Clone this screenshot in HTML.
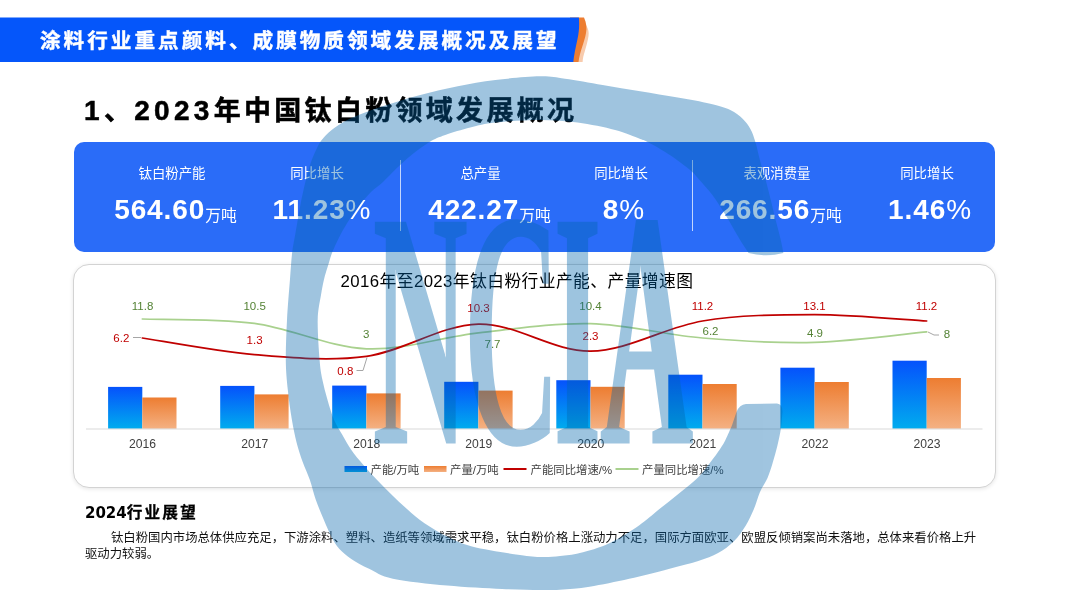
<!DOCTYPE html>
<html lang="zh-CN">
<head>
<meta charset="utf-8">
<title>涂料行业重点颜料、成膜物质领域发展概况及展望</title>
<style>
html,body{margin:0;padding:0;}
body{width:1080px;height:607px;position:relative;overflow:hidden;background:#fff;
  font-family:"Liberation Sans","Noto Sans CJK SC",sans-serif;color:#000;}
.abs{position:absolute;}
#hdrtxt{left:40px;top:19px;height:44.5px;line-height:44.5px;color:#fff;font-weight:700;
  font-size:20.6px;letter-spacing:3.02px;-webkit-text-stroke:0.45px #fff;white-space:nowrap;}
#title{left:84px;top:90.7px;height:40px;line-height:40px;font-weight:700;font-size:27px;
  letter-spacing:3.3px;white-space:nowrap;color:#000;-webkit-text-stroke:0.5px #000;}
#title .n{letter-spacing:4.3px;font-size:28px;}
#card{left:74px;top:142px;width:921px;height:110px;border-radius:10px;background:#2a6cf8;}
.lbl{position:absolute;top:164px;height:20px;line-height:20px;font-size:13.4px;color:#fff;
  white-space:nowrap;transform:translateX(-50%);}
.val{position:absolute;top:192px;height:36px;line-height:36px;font-size:28px;font-weight:700;color:#fff;
  white-space:nowrap;transform:translateX(-50%);letter-spacing:0.9px;}
.val .u{font-size:15.8px;font-weight:400;letter-spacing:0;position:relative;top:1.5px;}
.val .p{font-weight:400;}
.dv{position:absolute;top:160px;height:71px;width:1.4px;background:rgba(255,255,255,.72);}
#chart{left:73.1px;top:263.9px;width:923.2px;height:223.7px;border:1.3px solid #d3d3d3;border-radius:16px;
  box-sizing:border-box;background:#fff;box-shadow:0 1px 4px rgba(0,0,0,.10);}
#ctitle{left:338px;top:269.5px;width:358px;height:24px;line-height:24px;text-align:center;font-size:16.8px;
  letter-spacing:0.4px;white-space:nowrap;color:#000;}
#h2{left:85px;top:501.5px;height:22px;line-height:22px;font-weight:700;font-size:15px;white-space:nowrap;}
#h2 .d{font-family:"DejaVu Sans","Liberation Sans",sans-serif;font-weight:700;}
#h2 .c{letter-spacing:2.2px;font-size:15.6px;-webkit-text-stroke:0.3px #000;}
#body{left:85px;top:531.1px;width:900px;font-size:12.37px;line-height:15.4px;text-indent:2.1em;color:#111;}
svg{position:absolute;left:0;top:0;}
svg text{font-family:"Liberation Sans","Noto Sans CJK SC",sans-serif;}
svg text.wm{font-family:"Liberation Serif",serif;font-weight:700;}
</style>
</head>
<body>
<svg id="hdr" class="abs" width="600" height="46" viewBox="0 0 600 46" style="top:17px">
  <path d="M580 3 C588 8 590 14 588 22 C586 32 583 38 582.6 45H570V3Z" fill="#f8cbad"/>
  <path d="M570 0.5H584 C586.5 6 587 11 586 16 C584.5 25 580 34 578.5 45H570Z" fill="#ed7d31"/>
  <path d="M0 0.5H578.9 C579.5 9 579 15 577.5 22 C575.5 31 574 38 573.3 45H0Z" fill="#0556fa"/>
</svg>
<div id="hdrtxt" class="abs">涂料行业重点颜料、成膜物质领域发展概况及展望</div>
<div id="title" class="abs"><span class="n">1</span>、<span class="n">2023</span>年中国钛白粉领域发展概况</div>

<div id="card" class="abs"></div>
<div class="lbl" style="left:172px">钛白粉产能</div>
<div class="val" style="left:175.5px">564.60<span class="u">万吨</span></div>
<div class="lbl" style="left:317px">同比增长</div>
<div class="val" style="left:322px">11.23<span class="p">%</span></div>
<div class="dv" style="left:400px"></div>
<div class="lbl" style="left:480.5px">总产量</div>
<div class="val" style="left:489.5px">422.27<span class="u">万吨</span></div>
<div class="lbl" style="left:621px">同比增长</div>
<div class="val" style="left:624px">8<span class="p">%</span></div>
<div class="dv" style="left:692px"></div>
<div class="lbl" style="left:777px">表观消费量</div>
<div class="val" style="left:780.5px">266.56<span class="u">万吨</span></div>
<div class="lbl" style="left:927px">同比增长</div>
<div class="val" style="left:930px">1.46<span class="p">%</span></div>

<div id="chart" class="abs"></div>
<div id="ctitle" class="abs">2016年至2023年钛白粉行业产能、产量增速图</div>
<svg class="abs" width="1080" height="607" viewBox="0 0 1080 607">
<defs><linearGradient id="gb" x1="0" y1="0" x2="0" y2="1"><stop offset="0" stop-color="#0552fc"/><stop offset="1" stop-color="#00acee"/></linearGradient><linearGradient id="go" x1="0" y1="0" x2="0" y2="1"><stop offset="0" stop-color="#ed7d31"/><stop offset="1" stop-color="#f4b183"/></linearGradient></defs>
<rect x="108.1" y="386.9" width="34.2" height="41.9" fill="url(#gb)"/>
<rect x="142.3" y="397.5" width="34.2" height="31.3" fill="url(#go)"/>
<rect x="220.2" y="385.9" width="34.2" height="42.9" fill="url(#gb)"/>
<rect x="254.4" y="394.4" width="34.2" height="34.4" fill="url(#go)"/>
<rect x="332.2" y="385.6" width="34.2" height="43.2" fill="url(#gb)"/>
<rect x="366.4" y="393.4" width="34.2" height="35.4" fill="url(#go)"/>
<rect x="444.2" y="381.8" width="34.2" height="47.0" fill="url(#gb)"/>
<rect x="478.4" y="390.6" width="34.2" height="38.2" fill="url(#go)"/>
<rect x="556.3" y="380.2" width="34.2" height="48.6" fill="url(#gb)"/>
<rect x="590.5" y="386.8" width="34.2" height="42.0" fill="url(#go)"/>
<rect x="668.3" y="374.7" width="34.2" height="54.1" fill="url(#gb)"/>
<rect x="702.5" y="384.0" width="34.2" height="44.8" fill="url(#go)"/>
<rect x="780.4" y="367.7" width="34.2" height="61.1" fill="url(#gb)"/>
<rect x="814.6" y="382.0" width="34.2" height="46.8" fill="url(#go)"/>
<rect x="892.5" y="360.7" width="34.2" height="68.1" fill="url(#gb)"/>
<rect x="926.7" y="378.0" width="34.2" height="50.8" fill="url(#go)"/>
<path d="M86 429.0H982.5" stroke="#d9d9d9" stroke-width="1" fill="none"/>
<path d="M142.3 319.0 C161.0 319.7 217.0 318.4 254.4 323.4 C291.7 328.4 329.0 347.2 366.4 348.8 C403.8 350.4 441.1 337.1 478.4 332.9 C515.8 328.7 553.1 322.9 590.5 323.7 C627.9 324.6 665.2 334.9 702.5 338.0 C739.9 341.1 777.2 343.4 814.6 342.4 C851.9 341.4 908.0 333.6 926.7 331.9" fill="none" stroke="#a9d18e" stroke-width="1.7" stroke-linecap="round"/>
<path d="M142.3 338.0 C161.0 340.8 217.0 351.5 254.4 354.6 C291.7 357.6 329.0 361.4 366.4 356.3 C403.8 351.2 441.1 324.9 478.4 324.1 C515.8 323.2 553.1 351.7 590.5 351.2 C627.9 350.7 665.2 327.1 702.5 321.0 C739.9 314.9 777.2 314.6 814.6 314.6 C851.9 314.6 908.0 320.0 926.7 321.0" fill="none" stroke="#c00000" stroke-width="1.7" stroke-linecap="round"/>
<path d="M133 337.5H141" stroke="#a6a6a6" stroke-width="1" fill="none"/>
<path d="M356.5 370.5H363L367 357.5" stroke="#a6a6a6" stroke-width="1" fill="none"/>
<path d="M928 332L934 335H939" stroke="#a6a6a6" stroke-width="1" fill="none"/>
<text x="142.6" y="447.6" font-size="12.15" fill="#404040" text-anchor="middle">2016</text>
<text x="254.7" y="447.6" font-size="12.15" fill="#404040" text-anchor="middle">2017</text>
<text x="366.7" y="447.6" font-size="12.15" fill="#404040" text-anchor="middle">2018</text>
<text x="478.8" y="447.6" font-size="12.15" fill="#404040" text-anchor="middle">2019</text>
<text x="590.8" y="447.6" font-size="12.15" fill="#404040" text-anchor="middle">2020</text>
<text x="702.8" y="447.6" font-size="12.15" fill="#404040" text-anchor="middle">2021</text>
<text x="814.9" y="447.6" font-size="12.15" fill="#404040" text-anchor="middle">2022</text>
<text x="927.0" y="447.6" font-size="12.15" fill="#404040" text-anchor="middle">2023</text>
<text x="142.6" y="310.4" font-size="11.5" fill="#548235" text-anchor="middle">11.8</text>
<text x="254.6" y="310.4" font-size="11.5" fill="#548235" text-anchor="middle">10.5</text>
<text x="366.3" y="337.8" font-size="11.5" fill="#548235" text-anchor="middle">3</text>
<text x="492.5" y="347.7" font-size="11.5" fill="#548235" text-anchor="middle">7.7</text>
<text x="590.5" y="310.4" font-size="11.5" fill="#548235" text-anchor="middle">10.4</text>
<text x="710.5" y="335.4" font-size="11.5" fill="#548235" text-anchor="middle">6.2</text>
<text x="815.0" y="336.7" font-size="11.5" fill="#548235" text-anchor="middle">4.9</text>
<text x="947.0" y="338.4" font-size="11.5" fill="#548235" text-anchor="middle">8</text>
<text x="121.3" y="342.2" font-size="11.5" fill="#c00000" text-anchor="middle">6.2</text>
<text x="254.6" y="343.5" font-size="11.5" fill="#c00000" text-anchor="middle">1.3</text>
<text x="345.3" y="374.7" font-size="11.5" fill="#c00000" text-anchor="middle">0.8</text>
<text x="478.5" y="311.5" font-size="11.5" fill="#c00000" text-anchor="middle">10.3</text>
<text x="590.5" y="339.7" font-size="11.5" fill="#c00000" text-anchor="middle">2.3</text>
<text x="702.5" y="310.0" font-size="11.5" fill="#c00000" text-anchor="middle">11.2</text>
<text x="814.5" y="310.0" font-size="11.5" fill="#c00000" text-anchor="middle">13.1</text>
<text x="926.5" y="310.0" font-size="11.5" fill="#c00000" text-anchor="middle">11.2</text>
<rect x="344.5" y="466" width="22.5" height="6" fill="url(#gb)"/>
<text x="370.5" y="474" font-size="11.4" fill="#404040">产能/万吨</text>
<rect x="424" y="466" width="22.5" height="6" fill="url(#go)"/>
<text x="450" y="474" font-size="11.4" fill="#404040">产量/万吨</text>
<path d="M503.5 469H526.5" stroke="#c00000" stroke-width="2"/>
<text x="530.5" y="474" font-size="11.4" fill="#404040">产能同比增速/%</text>
<path d="M615.5 469H638.5" stroke="#a9d18e" stroke-width="2"/>
<text x="642" y="474" font-size="11.4" fill="#404040">产量同比增速/%</text>
</svg>
<div id="h2" class="abs"><span class="d">2024</span><span class="c">行业展望</span></div>
<div id="body" class="abs">钛白粉国内市场总体供应充足，下游涂料、塑料、造纸等领域需求平稳，钛白粉价格上涨动力不足，国际方面欧亚、欧盟反倾销案尚未落地，总体来看价格上升驱动力较弱。</div>
<svg class="abs" width="1080" height="607" viewBox="0 0 1080 607" style="pointer-events:none"><defs><filter id="dl" filterUnits="userSpaceOnUse" x="350" y="200" width="380" height="270"><feMorphology operator="dilate" radius="2 0"/></filter><filter id="dl1" filterUnits="userSpaceOnUse" x="350" y="200" width="380" height="270"><feMorphology operator="dilate" radius="1 0"/></filter></defs><g opacity="0.38" fill="#0566ad"><path d="M783.4 253.0 C782.9 250.7 781.7 244.2 780.5 239.0 C779.3 233.8 777.7 228.2 776.0 221.5 C774.3 214.8 772.2 205.9 770.5 199.0 C768.8 192.1 767.3 186.2 765.6 180.0 C763.9 173.8 762.1 168.3 760.4 162.0 C758.7 155.7 757.1 147.5 755.4 142.0 C753.7 136.5 752.5 132.8 750.4 129.0 C748.3 125.2 746.2 122.2 742.9 119.0 C739.5 115.8 735.7 112.5 730.3 110.0 C724.9 107.5 719.1 105.9 710.3 103.8 C701.5 101.7 689.4 99.7 677.7 97.6 C666.0 95.5 652.7 93.4 640.2 91.3 C627.7 89.2 615.1 87.1 602.6 85.0 C590.1 82.9 575.4 80.2 565.0 78.8 C554.6 77.3 551.6 76.1 540.0 76.3 C528.4 76.5 509.1 78.3 495.4 80.0 C481.7 81.7 470.3 83.8 457.8 86.3 C445.3 88.8 432.8 91.7 420.3 95.0 C407.8 98.3 394.0 102.5 382.7 106.3 C371.4 110.1 360.6 114.0 352.6 117.6 C344.7 121.1 339.8 124.3 335.0 127.6 C330.2 130.9 326.7 134.4 323.8 137.6 C320.9 140.8 319.8 142.4 317.5 147.0 C315.2 151.6 312.3 157.8 310.0 165.0 C307.7 172.2 305.3 182.3 303.5 190.0 C301.7 197.7 300.7 203.6 299.3 211.0 C297.9 218.4 296.4 227.6 295.2 234.5 C294.0 241.4 293.1 244.9 292.2 252.3 C291.3 259.7 290.9 267.7 290.0 279.0 C289.1 290.3 287.7 306.5 287.0 320.0 C286.3 333.5 285.7 348.4 285.8 360.0 C285.9 371.6 286.8 379.8 287.8 389.7 C288.8 399.6 290.3 410.4 291.8 419.3 C293.3 428.2 294.9 435.9 296.7 443.0 C298.5 450.1 300.5 455.9 302.7 462.0 C304.9 468.1 307.6 473.5 309.8 479.8 C312.0 486.1 313.4 493.0 315.7 499.6 C318.0 506.2 321.0 513.0 323.6 519.3 C326.2 525.5 328.9 532.1 331.5 537.1 C334.1 542.1 336.1 545.4 339.4 549.0 C342.7 552.6 346.4 555.6 351.3 558.9 C356.2 562.2 362.2 565.5 369.1 568.8 C376.0 572.1 379.8 575.9 392.8 578.7 C405.8 581.5 428.8 583.8 447.0 585.5 C465.2 587.2 486.5 588.2 502.0 589.0 C517.5 589.8 530.3 589.9 540.0 590.0 C549.7 590.1 551.7 590.2 560.0 589.7 C568.3 589.2 578.1 588.5 589.6 586.7 C601.1 584.9 616.0 581.8 629.2 578.8 C642.4 575.8 657.2 571.9 668.7 568.9 C680.2 565.9 690.1 563.6 698.3 561.0 C706.5 558.4 712.2 556.4 718.1 553.1 C724.0 549.8 729.3 545.9 733.9 541.3 C738.5 536.7 742.5 530.8 745.8 525.5 C749.1 520.2 751.3 515.2 753.7 509.6 C756.1 504.0 757.7 497.2 760.0 491.9 C762.3 486.6 765.4 482.9 767.5 478.0 C769.6 473.1 771.1 468.0 772.7 462.7 C774.3 457.4 775.8 452.1 777.2 446.4 C778.6 440.7 780.0 434.3 780.9 428.6 C781.8 422.9 782.1 414.8 782.4 412.0 Q782.6 404.2 777 403.6 L746 404.1 Q739.5 404.4 736.4 412.3 L731.9 425.6 C730.8 428.1 727.6 435.9 725.2 440.4 C722.9 444.8 720.5 448.3 717.8 452.3 C715.1 456.3 712.3 459.9 708.9 464.2 C705.5 468.5 702.5 473.1 697.5 478.0 C692.5 482.9 685.1 488.5 678.6 493.8 C672.1 499.1 665.4 504.3 658.8 509.6 C652.2 514.9 647.2 519.9 639.0 525.5 C630.8 531.1 619.3 538.6 609.4 543.2 C599.5 547.8 588.0 551.0 579.8 553.1 C571.6 555.2 566.6 555.5 560.0 556.1 C553.4 556.8 547.3 557.3 540.0 557.0 C532.7 556.7 527.3 556.2 516.0 554.5 C504.7 552.8 483.3 549.4 472.0 546.5 C460.7 543.6 456.1 541.0 448.2 537.1 C440.3 533.2 431.4 528.0 424.5 523.3 C417.6 518.6 412.6 513.9 407.0 509.0 C401.4 504.1 396.3 499.1 391.2 494.2 C386.1 489.2 381.1 484.2 376.4 479.3 C371.7 474.4 367.2 469.4 363.0 464.5 C358.8 459.6 354.6 454.6 351.2 449.7 C347.8 444.8 345.1 439.8 342.3 434.8 C339.5 429.9 336.6 425.9 334.1 420.0 C331.6 414.1 329.3 406.3 327.4 399.6 C325.4 392.9 323.7 386.4 322.4 379.8 C321.1 373.2 320.4 370.0 319.6 360.0 C318.8 350.0 317.5 330.8 317.7 320.0 C317.9 309.2 319.9 301.8 321.0 295.0 C322.1 288.2 323.0 283.7 324.1 279.0 C325.2 274.3 326.2 271.4 327.6 267.0 C329.0 262.6 330.4 257.1 332.3 252.3 C334.2 247.5 336.3 242.9 338.8 238.0 C341.3 233.1 344.3 227.8 347.5 222.6 C350.7 217.4 354.1 212.1 358.0 207.0 C361.9 201.9 366.8 196.2 371.0 192.0 C375.2 187.8 378.8 185.8 383.0 181.9 C387.2 178.0 391.7 173.1 396.4 168.6 C401.1 164.1 405.7 159.6 411.2 155.2 C416.7 150.8 423.8 145.4 429.5 142.0 C435.2 138.6 438.5 137.4 445.3 135.0 C452.1 132.6 462.0 129.7 470.3 127.6 C478.6 125.5 483.8 123.9 495.4 122.6 C507.0 121.3 526.3 120.0 540.0 120.0 C553.7 120.0 565.1 120.9 577.6 122.6 C590.1 124.3 604.7 127.3 615.1 130.0 C625.5 132.7 634.8 136.9 640.2 138.9 C645.6 140.9 642.7 139.3 647.7 142.0 C652.7 144.7 663.1 150.5 670.2 155.2 C677.3 159.9 685.4 166.1 690.3 170.2 C695.2 174.3 695.9 175.9 699.5 180.0 C703.1 184.1 708.1 189.4 712.2 194.8 C716.3 200.2 720.3 206.7 724.0 212.6 C727.7 218.5 731.3 224.9 734.5 230.4 C737.7 235.9 741.0 241.5 743.4 245.3 C745.8 249.1 747.7 251.7 748.6 253.0 Q766 257.5 783.4 253 Z"/><g filter="url(#dl1)"><text class="wm" transform="translate(373.4 443.5) scale(0.3839 1.0000)" font-size="338.6" x="0" y="0">N</text></g><text class="wm" transform="translate(463.3 443.5) scale(0.3970 1.0000)" font-size="338.6" x="0" y="0">C</text><g filter="url(#dl)"><text class="wm" transform="translate(555.8 443.5) scale(0.3297 1.0000)" font-size="338.6" x="0" y="0">I</text><text class="wm" transform="translate(601.5 443.5) scale(0.3691 1.0000)" font-size="338.6" x="0" y="0">A</text></g></g></svg>
</body>
</html>
